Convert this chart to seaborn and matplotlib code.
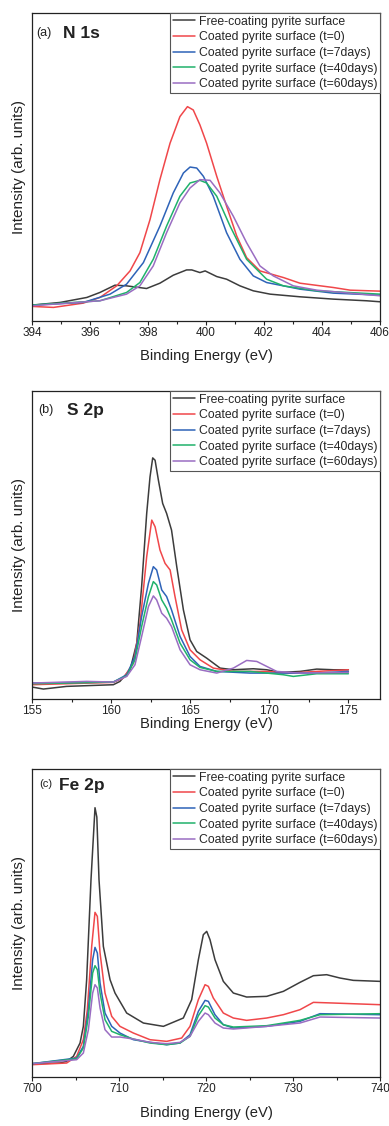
import numpy as np
import pandas as pd
import matplotlib
matplotlib.use("Agg")
import matplotlib.pyplot as plt
from matplotlib.ticker import MultipleLocator
import seaborn as sns

# ---------------- data ----------------
labels = ["Free-coating pyrite surface", "Coated pyrite surface (t=0)",
          "Coated pyrite surface (t=7days)", "Coated pyrite surface (t=40days)",
          "Coated pyrite surface (t=60days)"]
colors = ["#3c3c3c", "#f0474a", "#2e63b8", "#20b26b", "#9a6dc2"]

# (a) N 1s
n1s_free_x = [394.00, 394.97, 395.89, 396.34, 396.86, 397.26, 397.95, 398.41, 398.87, 399.33, 399.51, 399.79, 399.97, 400.37, 400.71, 401.17, 401.63, 402.21, 403.24, 404.39, 405.54, 406.00]
n1s_free_y = [48, 56, 71, 86, 108, 106, 98, 114, 138, 154, 154, 146, 151, 134, 126, 106, 91, 81, 73, 66, 61, 58]
n1s_t0_x = [394.00, 394.74, 395.77, 396.34, 396.92, 397.38, 397.72, 398.07, 398.41, 398.76, 399.10, 399.36, 399.56, 399.79, 400.02, 400.37, 400.71, 401.06, 401.40, 401.86, 402.67, 403.24, 404.39, 404.97, 406.00]
n1s_t0_y = [44, 41, 54, 71, 106, 151, 206, 306, 426, 536, 616, 646, 636, 591, 536, 436, 346, 256, 191, 151, 131, 114, 101, 93, 90]
n1s_t7_x = [394.00, 395.77, 396.69, 397.26, 397.84, 398.41, 398.87, 399.22, 399.45, 399.68, 399.91, 400.25, 400.71, 401.17, 401.63, 402.09, 403.24, 404.39, 406.00]
n1s_t7_y = [48, 56, 81, 111, 176, 286, 386, 446, 464, 461, 436, 376, 266, 186, 136, 116, 96, 84, 78]
n1s_t40_x = [394.00, 396.34, 397.26, 397.72, 398.18, 398.64, 399.10, 399.45, 399.79, 400.02, 400.37, 400.83, 401.40, 402.09, 402.67, 403.82, 406.00]
n1s_t40_y = [48, 61, 86, 116, 186, 286, 376, 416, 424, 416, 376, 286, 186, 126, 106, 91, 81]
n1s_t60_x = [394.00, 396.34, 397.26, 397.72, 398.18, 398.64, 399.10, 399.45, 399.79, 400.14, 400.48, 400.94, 401.40, 401.86, 402.32, 403.01, 403.82, 404.97, 406.00]
n1s_t60_y = [46, 61, 81, 106, 166, 266, 356, 401, 426, 424, 386, 316, 236, 166, 136, 106, 93, 84, 76]

# (b) S 2p
s2p_free_x = [155.00, 155.72, 157.19, 160.14, 160.56, 161.20, 161.62, 161.93, 162.25, 162.46, 162.63, 162.78, 162.99, 163.26, 163.51, 163.82, 164.15, 164.57, 164.99, 165.41, 166.04, 166.89, 167.73, 168.99, 169.84, 170.68, 171.94, 173.00, 174.05, 175.00]
s2p_free_y = [36, 30, 38, 43, 53, 88, 168, 338, 558, 668, 725, 718, 658, 588, 558, 508, 398, 268, 178, 143, 123, 93, 88, 91, 88, 80, 83, 90, 88, 88]
s2p_t0_x = [155.00, 157.19, 160.14, 160.77, 161.41, 161.83, 162.25, 162.57, 162.78, 163.09, 163.41, 163.73, 164.04, 164.46, 164.99, 165.62, 166.46, 167.73, 169.84, 171.31, 173.00, 175.00]
s2p_t0_y = [43, 46, 50, 63, 108, 228, 428, 538, 518, 448, 408, 388, 308, 208, 148, 118, 93, 83, 83, 78, 83, 88]
s2p_t7_x = [155.00, 160.14, 160.99, 161.51, 161.93, 162.36, 162.67, 162.88, 163.20, 163.51, 163.82, 164.36, 164.99, 165.62, 166.68, 168.78, 170.89, 173.00, 175.00]
s2p_t7_y = [48, 51, 73, 128, 248, 348, 398, 388, 328, 308, 268, 188, 128, 98, 83, 78, 78, 78, 83]
s2p_t40_x = [155.00, 160.14, 160.99, 161.51, 161.93, 162.36, 162.67, 162.88, 163.20, 163.51, 163.82, 164.36, 164.99, 165.62, 166.68, 168.78, 170.89, 171.52, 173.00, 175.00]
s2p_t40_y = [46, 51, 70, 118, 218, 308, 353, 343, 298, 273, 238, 168, 118, 95, 83, 83, 73, 68, 76, 76]
s2p_t60_x = [155.00, 158.46, 160.14, 160.99, 161.51, 161.93, 162.36, 162.67, 162.88, 163.20, 163.51, 163.82, 164.36, 164.99, 165.62, 166.68, 167.73, 168.57, 169.21, 169.84, 170.47, 171.94, 175.00]
s2p_t60_y = [48, 53, 51, 68, 103, 188, 278, 310, 298, 258, 243, 218, 148, 103, 88, 78, 93, 116, 113, 98, 83, 78, 80]

# (c) Fe 2p
fe_free_x = [700.00, 703.22, 703.98, 704.75, 705.52, 705.90, 706.28, 706.78, 707.24, 707.45, 707.70, 708.20, 708.97, 709.54, 710.88, 712.80, 715.10, 717.39, 718.35, 719.12, 719.69, 720.08, 720.46, 721.03, 721.99, 723.14, 724.67, 726.97, 728.89, 730.80, 732.34, 733.87, 735.40, 736.93, 740.00]
fe_free_y = [40, 42, 47, 62, 102, 152, 292, 592, 808, 780, 592, 392, 292, 252, 192, 162, 152, 177, 232, 352, 427, 437, 412, 352, 287, 252, 240, 242, 257, 284, 304, 307, 297, 290, 287]
fe_t0_x = [700.00, 703.98, 705.13, 705.90, 706.36, 706.86, 707.24, 707.51, 707.82, 708.39, 709.16, 710.11, 711.65, 713.56, 715.48, 717.20, 718.16, 719.12, 719.89, 720.27, 720.84, 721.99, 723.14, 724.67, 726.97, 728.89, 730.80, 732.34, 734.64, 740.00]
fe_t0_y = [37, 42, 62, 112, 202, 392, 494, 482, 372, 252, 182, 152, 132, 112, 107, 117, 152, 232, 277, 272, 237, 192, 177, 170, 177, 187, 202, 224, 222, 217]
fe_x = [700.00, 705.13, 705.90, 706.48, 706.97, 707.24, 707.51, 707.82, 708.39, 709.16, 710.11, 711.65, 713.56, 715.48, 717.01, 718.16, 719.12, 719.89, 720.27, 721.03, 721.99, 723.14, 726.97, 730.80, 733.10, 740.00]
fe_t7_y = [40, 57, 92, 202, 352, 389, 372, 282, 192, 152, 132, 112, 104, 97, 102, 127, 197, 230, 227, 187, 157, 147, 152, 167, 190, 187]
fe_t40_y = [40, 55, 87, 182, 312, 334, 322, 252, 172, 137, 127, 114, 102, 97, 102, 122, 184, 214, 210, 177, 157, 150, 154, 170, 187, 190]
fe_t60_y = [40, 52, 72, 142, 252, 277, 267, 207, 142, 120, 120, 114, 104, 100, 104, 122, 167, 192, 187, 162, 147, 144, 152, 162, 180, 177]

panels = [
    dict(tag="(a)", name="N 1s", xlim=(394, 406), ylim=(0, 928), major=2, minor=1,
         series=[(n1s_free_x, n1s_free_y), (n1s_t0_x, n1s_t0_y), (n1s_t7_x, n1s_t7_y),
                 (n1s_t40_x, n1s_t40_y), (n1s_t60_x, n1s_t60_y)],
         rect=[0.0823, 0.7149, 0.8946, 0.2735], xlabelpad=7,
         tagpos=(0.013, 0.935), namepos=(0.089, 0.935), tagsize=9),
    dict(tag="(b)", name="S 2p", xlim=(155, 177), ylim=(0, 926), major=5, minor=2.5,
         series=[(s2p_free_x, s2p_free_y), (s2p_t0_x, s2p_t0_y), (s2p_t7_x, s2p_t7_y),
                 (s2p_t40_x, s2p_t40_y), (s2p_t60_x, s2p_t60_y)],
         rect=[0.0823, 0.3792, 0.8946, 0.2735], xlabelpad=0,
         tagpos=(0.017, 0.938), namepos=(0.10, 0.938), tagsize=9),
    dict(tag="(c)", name="Fe 2p", xlim=(700, 740), ylim=(0, 924), major=10, minor=5,
         series=[(fe_free_x, fe_free_y), (fe_t0_x, fe_t0_y), (fe_x, fe_t7_y),
                 (fe_x, fe_t40_y), (fe_x, fe_t60_y)],
         rect=[0.0823, 0.0435, 0.8946, 0.2735], xlabelpad=8,
         tagpos=(0.022, 0.952), namepos=(0.078, 0.945), tagsize=8),
]

sns.set_theme(style="ticks")
plt.rcParams['font.family'] = ['Liberation Sans', 'DejaVu Sans']

fig = plt.figure(figsize=(3.89, 11.26), dpi=100)

for p in panels:
    ax = fig.add_axes(p["rect"])
    for (xs, ys), lab, col in zip(p["series"], labels, colors):
        sns.lineplot(x=np.asarray(xs), y=np.asarray(ys), ax=ax, color=col, label=lab,
                     linewidth=1.1, sort=False, estimator=None)
    ax.set_xlim(*p["xlim"])
    ax.set_ylim(*p["ylim"])
    ax.set_yticks([])
    ax.xaxis.set_major_locator(MultipleLocator(p["major"]))
    ax.xaxis.set_minor_locator(MultipleLocator(p["minor"]))
    ax.tick_params(axis='x', which='major', direction='out', length=3, width=0.8,
                   labelsize=8.5, pad=1.5, colors='#222222')
    ax.tick_params(axis='x', which='minor', direction='out', length=2, width=0.8,
                   colors='#222222')
    for s in ax.spines.values():
        s.set_visible(True)
        s.set_linewidth(0.9)
        s.set_color('#222222')
    ax.set_xlabel("Binding Energy (eV)", fontsize=10.6, labelpad=p["xlabelpad"], color='#222222')
    ax.set_ylabel("Intensity (arb. units)", fontsize=11, labelpad=4, color='#222222')
    ax.text(p["tagpos"][0], p["tagpos"][1], p["tag"], transform=ax.transAxes,
            fontsize=p["tagsize"], va='center', ha='left', color='#222222')
    ax.text(p["namepos"][0], p["namepos"][1], p["name"], transform=ax.transAxes,
            fontsize=12.5, fontweight='bold', va='center', ha='left', color='#222222')
    leg = ax.legend(loc='upper right', fontsize=8.8, frameon=True, fancybox=False,
                    framealpha=1, edgecolor='#555555', borderaxespad=0,
                    borderpad=0.2, labelspacing=0.3, handlelength=1.8,
                    handletextpad=0.35)
    leg.get_frame().set_linewidth(0.8)

fig.savefig("out.png", dpi=100)
